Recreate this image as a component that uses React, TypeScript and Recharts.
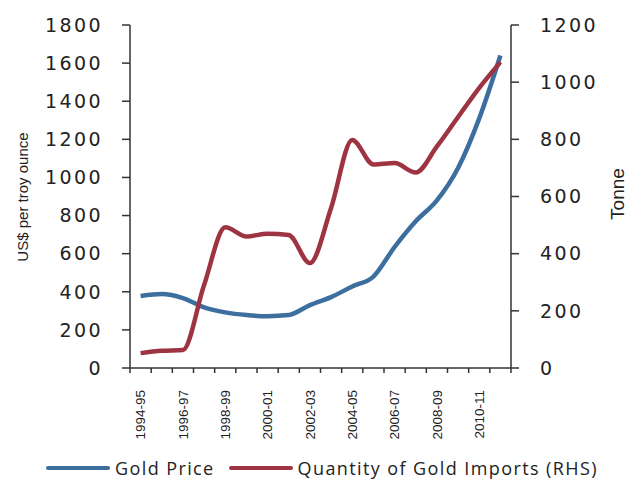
import React from 'react';
import { LineChart, Line, XAxis, YAxis, Label } from 'recharts';

const years = [
  '1994-95', '1995-96', '1996-97', '1997-98', '1998-99', '1999-00', '2000-01', '2001-02', '2002-03',
  '2003-04', '2004-05', '2005-06', '2006-07', '2007-08', '2008-09', '2009-10', '2010-11', '2011-12',
];
const goldPrice = [378, 388, 367, 318, 292, 278, 272, 278, 330, 372, 428, 480, 635, 770, 880, 1050, 1310, 1640];
const goldImports = [52, 60, 63, 290, 492, 460, 470, 465, 367, 560, 798, 712, 717, 684, 775, 878, 980, 1070];
const leftTicks = [0, 200, 400, 600, 800, 1000, 1200, 1400, 1600, 1800];
const rightTicks = [0, 200, 400, 600, 800, 1000, 1200];

const data = years.map((year, i) => ({ year, price: goldPrice[i], imports: goldImports[i] }));

const W = 630;
const H = 484;
const LEFT = 130;
const RIGHT = 119;
const TOP = 25;
const XH = 116;
const PLOT_W = W - LEFT - RIGHT;
const STEP = PLOT_W / years.length;

const BLUE = '#3c6e9e';
const RED = '#9e3342';
const AXIS = '#333';

const numTick = { fontFamily: 'DejaVu Sans', fontSize: 19, fill: '#222', letterSpacing: 2.4 };

const XTick = (props: any) => {
  const { x, y, payload, index } = props;
  const i = index ?? payload.index;
  return (
    <g>
      <line x1={x - STEP / 2} x2={x - STEP / 2} y1={y} y2={y + 5} stroke={AXIS} strokeWidth={1.5} />
      {i === years.length - 1 && (
        <line x1={x + STEP / 2} x2={x + STEP / 2} y1={y} y2={y + 5} stroke={AXIS} strokeWidth={1.5} />
      )}
      {i % 2 === 0 && (
        <text
          x={x}
          y={y + 22}
          dy="0.35em"
          textAnchor="end"
          transform={`rotate(-90, ${x}, ${y + 22})`}
          fontFamily="Liberation Sans"
          fontSize={13.5}
          fill="#222"
        >
          {payload.value}
        </text>
      )}
    </g>
  );
};

const LegendItem = ({ color, text, gap }: { color: string; text: string; gap: number }) => (
  <div style={{ display: 'flex', alignItems: 'center', marginRight: gap }}>
    <div style={{ width: 64, height: 4.5, background: color, borderRadius: 2, marginRight: 5 }} />
    <span style={{ fontFamily: 'Open Sans', fontSize: 18, letterSpacing: 1.4, color: '#222' }}>{text}</span>
  </div>
);

export default function App() {
  return (
    <div style={{ position: 'absolute', left: 0, top: 0, width: W, height: H, background: '#fff' }}>
      <LineChart width={W} height={H} data={data} margin={{ top: TOP, right: 0, bottom: 0, left: 0 }}>
        <XAxis
          dataKey="year"
          height={XH}
          interval={0}
          tickSize={0}
          tickMargin={0}
          tickLine={false}
          tick={<XTick />}
          padding={{ left: STEP / 2, right: STEP / 2 }}
          stroke={AXIS}
          strokeWidth={1.5}
        />
        <YAxis
          yAxisId="left"
          width={LEFT}
          domain={[0, 1800]}
          ticks={leftTicks}
          interval={0}
          tickSize={8}
          tickMargin={19}
          tick={numTick}
          stroke={AXIS}
          strokeWidth={1.5}
        >
          <Label
            content={() => (
              <text
                x={23}
                y={197}
                transform="rotate(-90, 23, 197)"
                textAnchor="middle"
                dy="0.35em"
                fontFamily="Liberation Sans"
                fontSize={15}
                fill="#222"
              >
                US$ per troy ounce
              </text>
            )}
          />
        </YAxis>
        <YAxis
          yAxisId="right"
          orientation="right"
          width={RIGHT}
          domain={[0, 1200]}
          ticks={rightTicks}
          interval={0}
          tickSize={8}
          tickMargin={21}
          tick={numTick}
          stroke={AXIS}
          strokeWidth={1.5}
        >
          <Label
            content={() => (
              <text
                x={617}
                y={194}
                transform="rotate(-90, 617, 194)"
                textAnchor="middle"
                dy="0.35em"
                fontFamily="Liberation Sans"
                fontSize={19}
                fill="#222"
              >
                Tonne
              </text>
            )}
          />
        </YAxis>
        <Line
          yAxisId="left"
          type="monotone"
          dataKey="price"
          stroke={BLUE}
          strokeWidth={4.5}
          dot={false}
          isAnimationActive={false}
        />
        <Line
          yAxisId="right"
          type="monotone"
          dataKey="imports"
          stroke={RED}
          strokeWidth={4.5}
          dot={false}
          isAnimationActive={false}
        />
      </LineChart>
      <div style={{ position: 'absolute', left: 46, top: 456, display: 'flex', alignItems: 'center' }}>
        <LegendItem color={BLUE} text="Gold Price" gap={14} />
        <LegendItem color={RED} text="Quantity of Gold Imports (RHS)" gap={0} />
      </div>
    </div>
  );
}
